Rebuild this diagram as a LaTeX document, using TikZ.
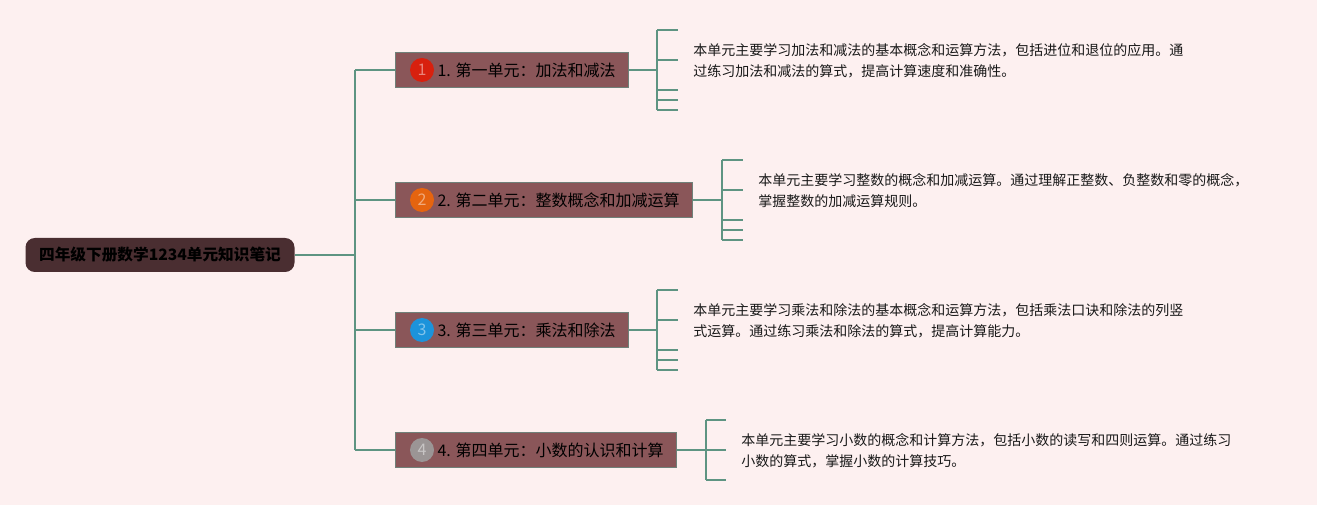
\documentclass[tikz,border=0pt]{standalone}
\usepackage{fontspec}
\setmainfont{Noto Sans CJK SC}
\usetikzlibrary{positioning}
\definecolor{NoteBg}{HTML}{FDF0F0}
\definecolor{NoteLine}{HTML}{5E9482}
\definecolor{RootFill}{HTML}{4A2E31}
\definecolor{UnitFill}{HTML}{8A5659}
\definecolor{UnitEdge}{HTML}{6F8179}
\definecolor{BadgeRed}{HTML}{D8200E}
\definecolor{BadgeOrange}{HTML}{E5640F}
\definecolor{BadgeBlue}{HTML}{1C93DB}
\definecolor{BadgeGray}{HTML}{9B9595}

\begin{document}
\begin{tikzpicture}[x=0.75pt, y=-0.75pt,
        root/.style={rectangle, fill=RootFill, rounded corners=7pt, font=\bfseries\fontsize{11.75}{13}\selectfont, text=black, minimum width=201.75pt, minimum height=25.5pt},
        unit/.style={rectangle, draw=UnitEdge, line width=0.8pt, fill=UnitFill, font=\fontsize{12}{14}\selectfont, text=black, minimum height=26.25pt, anchor=west, inner xsep=9.75pt},
        badge/.style={circle, fill=#1, text=#1!55!white, minimum size=18pt, inner sep=0pt, font=\fontsize{12}{14}\selectfont},
        leaf/.style={anchor=west, align=left, inner sep=0pt, font=\fontsize{10.5}{15.75}\selectfont, text=black!90},
        link/.style={draw=NoteLine, line width=1.5pt}]

        \fill[NoteBg] (0,0) rectangle (1317,505);

        \node[root] (root) at (160,255) {四年级下册数学1234单元知识笔记};

        \node[unit] (u1) at (395,70) {\hspace*{21.75pt}1. 第一单元：加法和减法};
        \node[unit] (u2) at (395,200) {\hspace*{21.75pt}2. 第二单元：整数概念和加减运算};
        \node[unit] (u3) at (395,330) {\hspace*{21.75pt}3. 第三单元：乘法和除法};
        \node[unit] (u4) at (395,450) {\hspace*{21.75pt}4. 第四单元：小数的认识和计算};

        \node[badge=BadgeRed] (c1) at (422,70) {1};
        \node[badge=BadgeOrange] (c2) at (422,200) {2};
        \node[badge=BadgeBlue] (c3) at (422,330) {3};
        \node[badge=BadgeGray] (c4) at (422,450) {4};

        \node[leaf] (t1) at (693,60.5) {本单元主要学习加法和减法的基本概念和运算方法，包括进位和退位的应用。通\\过练习加法和减法的算式，提高计算速度和准确性。};
        \node[leaf] (t2) at (758,190.5) {本单元主要学习整数的概念和加减运算。通过理解正整数、负整数和零的概念，\\掌握整数的加减运算规则。};
        \node[leaf] (t3) at (693,320.5) {本单元主要学习乘法和除法的基本概念和运算方法，包括乘法口诀和除法的列竖\\式运算。通过练习乘法和除法的算式，提高计算能力。};
        \node[leaf] (t4) at (741,450.5) {本单元主要学习小数的概念和计算方法，包括小数的读写和四则运算。通过练习\\小数的算式，掌握小数的计算技巧。};

        % trunk
        \coordinate (j0) at (355,255);
        \draw[link] (root) -- (j0);
        \draw[link] (j0 |- u1.west) -- (j0 |- u4.west);
        \foreach \i in {1,...,4}
            \draw[link] (j0 |- u\i.west) -- (u\i.west);

        % brackets
        \coordinate (k1) at (657,70);
        \coordinate (k2) at (722,200);
        \coordinate (k3) at (657,330);
        \coordinate (k4) at (706,450);
        \draw[link] (u1) -- (k1);
        \draw[link] (u2) -- (k2);
        \draw[link] (u3) -- (k3);
        \draw[link] (u4) -- (k4);
        \draw[link] (k1 |- 0,30) -- (k1 |- 0,110);
        \draw[link] (k2 |- 0,160) -- (k2 |- 0,240);
        \draw[link] (k3 |- 0,290) -- (k3 |- 0,370);
        \draw[link] (k4 |- 0,420) -- (k4 |- 0,480);
        \foreach \t in {30,60,90,100,110}
            \draw[link] (k1 |- 0,\t) -- ++(21,0);
        \foreach \t in {160,190,220,230,240}
            \draw[link] (k2 |- 0,\t) -- ++(21,0);
        \foreach \t in {290,320,350,360,370}
            \draw[link] (k3 |- 0,\t) -- ++(21,0);
        \foreach \t in {420,450,480}
            \draw[link] (k4 |- 0,\t) -- ++(20,0);
\end{tikzpicture}
\end{document}
